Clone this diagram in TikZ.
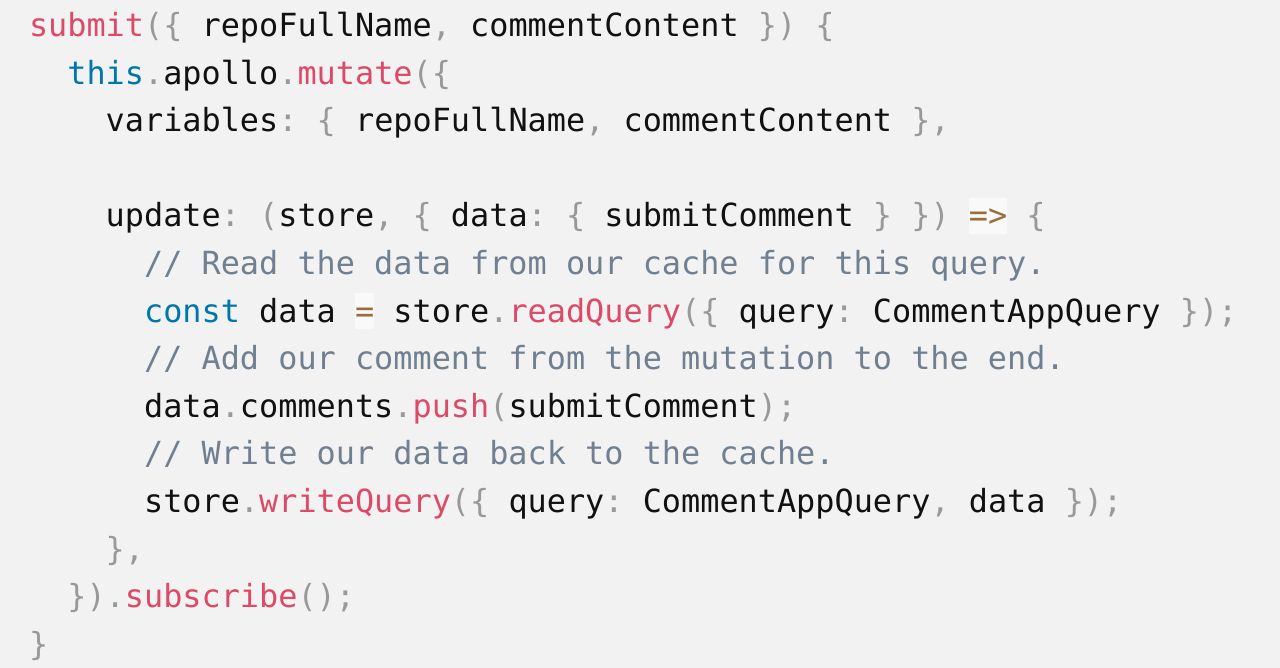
\documentclass[tikz,border=0pt]{standalone}
\usepackage{fontspec}
\setmonofont{DejaVu Sans Mono}
\definecolor{bgc}{HTML}{F2F2F2}
\definecolor{fnred}{HTML}{DD4A68}
\definecolor{kwblue}{HTML}{0077AA}
\definecolor{pungray}{HTML}{999999}
\definecolor{comgray}{HTML}{708090}
\definecolor{opc}{HTML}{9A6E3A}
\definecolor{opbg}{HTML}{F9F9F9}
\definecolor{txt}{HTML}{111111}
\newcommand\cR[1]{\textcolor{fnred}{#1}}
\newcommand\cB[1]{\textcolor{kwblue}{#1}}
\newcommand\cP[1]{\textcolor{pungray}{#1}}
\newcommand\cC[1]{\textcolor{comgray}{#1}}
\newcommand\cO[1]{{\setlength\fboxsep{0pt}\colorbox{opbg}{\rule[-0.22em]{0pt}{1.13em}\textcolor{opc}{#1}}}}
\tikzset{codeline/.style={anchor=base west, inner sep=0pt, outer sep=0pt, text=txt,
  font=\ttfamily\fontsize{31.86}{40}\selectfont}}
\begin{document}
\begin{tikzpicture}[x=1pt,y=1pt]
\fill[bgc] (0,0) rectangle (1280,-668);
\useasboundingbox (0,0) rectangle (1280,-668);
\def\cw{19.18}
\def\lp{47.6}
\def\xo{29}
\def\yo{36.5}
\node[codeline] (l1) at (\xo+0*\cw, -\yo-0*\lp) {\cR{submit}\cP{(\{} repoFullName\cP{,} commentContent \cP{\})} \cP{\{}};
\node[codeline] (l2) at (\xo+2*\cw, -\yo-1*\lp) {\cB{this}\cP{.}apollo\cP{.}\cR{mutate}\cP{(\{}};
\node[codeline] (l3) at (\xo+4*\cw, -\yo-2*\lp) {variables\cP{:} \cP{\{} repoFullName\cP{,} commentContent \cP{\},}};
\node[codeline] (l5) at (\xo+4*\cw, -\yo-4*\lp) {update\cP{:} \cP{(}store\cP{,} \cP{\{} data\cP{:} \cP{\{} submitComment \cP{\}} \cP{\})} \cO{=>} \cP{\{}};
\node[codeline] (l6) at (\xo+6*\cw, -\yo-5*\lp) {\cC{// Read the data from our cache for this query.}};
\node[codeline] (l7) at (\xo+6*\cw, -\yo-6*\lp) {\cB{const} data \cO{=} store\cP{.}\cR{readQuery}\cP{(\{} query\cP{:} CommentAppQuery \cP{\});}};
\node[codeline] (l8) at (\xo+6*\cw, -\yo-7*\lp) {\cC{// Add our comment from the mutation to the end.}};
\node[codeline] (l9) at (\xo+6*\cw, -\yo-8*\lp) {data\cP{.}comments\cP{.}\cR{push}\cP{(}submitComment\cP{);}};
\node[codeline] (l10) at (\xo+6*\cw, -\yo-9*\lp) {\cC{// Write our data back to the cache.}};
\node[codeline] (l11) at (\xo+6*\cw, -\yo-10*\lp) {store\cP{.}\cR{writeQuery}\cP{(\{} query\cP{:} CommentAppQuery\cP{,} data \cP{\});}};
\node[codeline] (l12) at (\xo+4*\cw, -\yo-11*\lp) {\cP{\},}};
\node[codeline] (l13) at (\xo+2*\cw, -\yo-12*\lp) {\cP{\}).}\cR{subscribe}\cP{();}};
\node[codeline] (l14) at (\xo+0*\cw, -\yo-13*\lp) {\cP{\}}};
\end{tikzpicture}
\end{document}
